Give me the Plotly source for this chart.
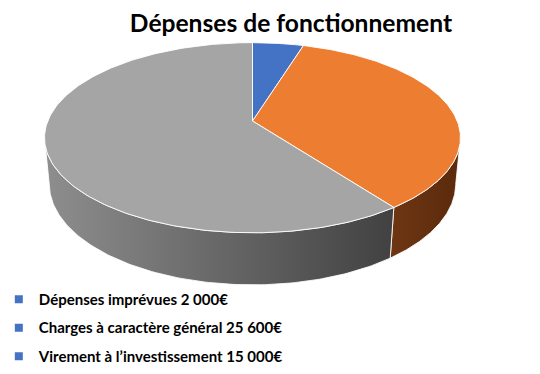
import numpy as np
import plotly.graph_objects as go

# ---- data ----
slice_labels = ["Dépenses imprévues", "Virement à l’investissement", "Charges à caractère général"]
slice_values = [2000, 15000, 25600]
top_colors = ["#4472C4", "#ED7D31", "#A5A5A5"]
side_scales = [
    [[0, "#2f5597"], [1, "#1f3864"]],
    [[0, "#6e3613"], [1, "#5a2a0c"]],
    [[0, "#8e8e8e"], [1, "#414141"]],
]
legend_labels = ["Dépenses imprévues 2 000€", "Charges à caractère général 25 600€", "Virement à l’investissement 15 000€"]
legend_color = "#4472C4"

# ---- 3D projection settings ----
W, H = 540, 374
cx, cy = 244.5, 113.0
f = 1040.0
s, c = 0.45, 0.893
D = 5.08
thick = 0.255


def proj(theta_deg, r, z):
    th = np.radians(theta_deg)
    X = r * np.sin(th)
    Y = r * np.cos(th)
    yc = Y * s + z * c
    zc = D + Y * c - z * s
    return cx + f * X / zc, cy - f * yc / zc


total = float(sum(slice_values))
bounds = np.concatenate([[0], np.cumsum(slice_values) / total * 360.0])
th_vis = np.degrees(np.arccos(-c / D))
vis_lo, vis_hi = th_vis, 360.0 - th_vis

fig = go.Figure()

# side walls
for i in range(len(slice_values)):
    a, b = max(bounds[i], vis_lo), min(bounds[i + 1], vis_hi)
    if b <= a:
        continue
    th = np.linspace(a, b, 120)
    xt, yt = proj(th, 1.0, 0.0)
    xb, yb = proj(th[::-1], 1.0, -thick)
    xs = np.concatenate([xt, xb, xt[:1]])
    ys = np.concatenate([yt, yb, yt[:1]])
    fig.add_trace(go.Scatter(
        x=xs, y=ys, mode="lines", fill="toself",
        fillgradient=dict(type="horizontal", colorscale=side_scales[i]),
        line=dict(color="rgba(255,255,255,0.85)", width=1),
        hoverinfo="skip", showlegend=False,
    ))

# top faces
for i in range(len(slice_values)):
    th = np.linspace(bounds[i], bounds[i + 1], 200)
    xa, ya = proj(th, 1.0, 0.0)
    x0, y0 = proj(0.0, 0.0, 0.0)
    xs = np.concatenate([[x0], xa, [x0]])
    ys = np.concatenate([[y0], ya, [y0]])
    fig.add_trace(go.Scatter(
        x=xs, y=ys, mode="lines", fill="toself", fillcolor=top_colors[i],
        line=dict(color="rgba(255,255,255,0.9)", width=1),
        name=slice_labels[i], hoverinfo="skip", showlegend=False,
    ))

# legend entries
for k, lab in enumerate(legend_labels):
    fig.add_trace(go.Scatter(
        x=[None], y=[None], mode="markers", name=lab, legendgroup=f"g{k}",
        marker=dict(symbol="square", size=8, color=legend_color),
    ))

fig.update_layout(
    width=W, height=H,
    margin=dict(l=0, r=0, t=0, b=0, autoexpand=False),
    paper_bgcolor="white", plot_bgcolor="white",
    xaxis=dict(range=[0, W], visible=False, fixedrange=True),
    yaxis=dict(range=[H, 0], visible=False, fixedrange=True),
    title=dict(text="<b>Dépenses de fonctionnement</b>", x=0.524, xanchor="center",
               y=0.96, yanchor="middle", automargin=False,
               font=dict(family="Lato", size=24.6, color="black")),
    legend=dict(x=-0.017, y=0.265, xanchor="left", yanchor="top",
                font=dict(family="Lato", size=15, color="black", weight="bold"),
                traceorder="grouped", tracegroupgap=6, itemwidth=30,
                bgcolor="rgba(0,0,0,0)"),
    showlegend=True,
)

fig.write_html("out.html")
